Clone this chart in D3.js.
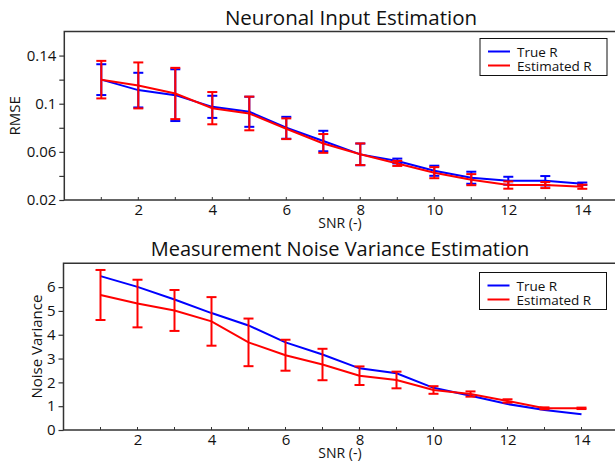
<!DOCTYPE html>
<html lang="en">
<head>
	<meta charset="utf-8">
	<title>RMSE and noise variance</title>
	<script src="https://d3js.org/d3.v7.min.js"></script>
	<style>
		body { margin: 0; background: #fff; }
		text { font-family: "Open Sans", sans-serif; fill: #111; }
	</style>
</head>
<body>
	<div id="chart"></div>
<script>
	var w = 615;
	var h = 461;

	var snr = [1, 2, 3, 4, 5, 6, 7, 8, 9, 10, 11, 12, 13, 14];

	// top panel: neuronal input RMSE (value and half error bar)
	var rmseTrue    = [0.120, 0.1113, 0.1071, 0.0974, 0.0933, 0.0800, 0.0690, 0.0579, 0.0524, 0.0443, 0.0385, 0.0360, 0.0360, 0.0335];
	var rmseTrueErr = [0.0128, 0.0144, 0.0215, 0.0092, 0.0125, 0.0091, 0.0085, 0.0090, 0.0020, 0.0042, 0.0050, 0.0033, 0.0039, 0.0010];
	var rmseEst     = [0.120, 0.1152, 0.1085, 0.0963, 0.0919, 0.0792, 0.0670, 0.0580, 0.0504, 0.0427, 0.0369, 0.0324, 0.0324, 0.0310];
	var rmseEstErr  = [0.0156, 0.0191, 0.0213, 0.0134, 0.0140, 0.0086, 0.0078, 0.0090, 0.0021, 0.0046, 0.0046, 0.0030, 0.0025, 0.0017];

	// bottom panel: measurement noise variance
	var nvTrue   = [6.46, 6.01, 5.48, 4.91, 4.39, 3.68, 3.17, 2.59, 2.38, 1.77, 1.44, 1.09, 0.84, 0.66];
	var nvEst    = [5.67, 5.31, 5.02, 4.56, 3.68, 3.14, 2.75, 2.28, 2.10, 1.68, 1.51, 1.22, 0.91, 0.91];
	var nvEstErr = [1.05, 1.00, 0.86, 1.02, 1.00, 0.65, 0.66, 0.39, 0.35, 0.16, 0.11, 0.07, 0.04, 0.03];

	var rmseTicks = [0.02, 0.04, 0.06, 0.08, 0.1, 0.12, 0.14];
	var rmseLabels = [0.02, 0.06, 0.1, 0.14];
	var nvTicks = [0, 1, 2, 3, 4, 5, 6];
	var xLabels = [2, 4, 6, 8, 10, 12, 14];

	var svg = d3.select("#chart").append("svg")
		.attr("width", w)
		.attr("height", h);

	function panel(opt) {
		var x = d3.scaleLinear().domain([0, 15]).range([opt.left, opt.left + 555]);
		var y = d3.scaleLinear().domain(opt.domain).range([opt.bottom, opt.top]);
		var g = svg.append("g");

		// frame (top + left + bottom)
		g.append("path")
			.attr("d", "M" + (w + 5) + "," + opt.top + "H" + opt.left + "V" + opt.bottom + "H" + (w + 5))
			.attr("fill", "none")
			.attr("stroke", "#333")
			.attr("stroke-width", 1.5);

		// x axis: tiny inward ticks, labels on even numbers
		var xa = g.append("g")
			.attr("transform", "translate(0," + opt.bottom + ")")
			.call(d3.axisBottom(x).tickValues(snr).tickSize(0).tickPadding(4)
				.tickFormat(function(d) { return xLabels.indexOf(d) >= 0 ? d : ""; }));
		xa.select(".domain").remove();
		xa.selectAll("text").attr("font-size", "15px").attr("font-family", "Open Sans").attr("fill", "#111");
		g.selectAll("line.xt").data(snr).enter().append("line")
			.attr("x1", function(d) { return x(d); })
			.attr("x2", function(d) { return x(d); })
			.attr("y1", opt.bottom)
			.attr("y2", opt.bottom - 3)
			.attr("stroke", "#333");

		// y axis: outward ticks
		var ya = g.append("g")
			.attr("transform", "translate(" + opt.left + ",0)")
			.call(d3.axisLeft(y).tickValues(opt.ticks).tickSize(5).tickPadding(3)
				.tickFormat(opt.fmt));
		ya.select(".domain").remove();
		ya.selectAll("line").attr("stroke", "#333").attr("stroke-width", 1.2);
		ya.selectAll("text").attr("font-size", "15px").attr("font-family", "Open Sans").attr("fill", "#111");

		g.append("text")
			.attr("x", opt.titleX)
			.attr("y", opt.top - 7)
			.attr("text-anchor", "middle")
			.attr("font-size", opt.titleSize)
			.text(opt.title);

		g.append("text")
			.attr("x", 340)
			.attr("y", opt.bottom + 28)
			.attr("text-anchor", "middle")
			.attr("font-size", "14px")
			.text("SNR (-)");

		g.append("text")
			.attr("transform", "translate(" + opt.ylabX + "," + ((opt.top + opt.bottom) / 2) + ") rotate(-90)")
			.attr("text-anchor", "middle")
			.attr("font-size", "15px")
			.text(opt.ylabel);

		opt.series.forEach(function(s) {
			var line = d3.line()
				.x(function(d, i) { return x(snr[i]); })
				.y(function(d) { return y(d); });
			if (s.err) {
				var bars = g.selectAll(null).data(s.values).enter().append("g")
					.attr("stroke", s.color)
					.attr("stroke-width", 2);
				bars.append("line")
					.attr("x1", function(d, i) { return x(snr[i]); })
					.attr("x2", function(d, i) { return x(snr[i]); })
					.attr("y1", function(d, i) { return y(d - s.err[i]); })
					.attr("y2", function(d, i) { return y(d + s.err[i]); });
				bars.append("line")
					.attr("x1", function(d, i) { return x(snr[i]) - 5; })
					.attr("x2", function(d, i) { return x(snr[i]) + 5; })
					.attr("y1", function(d, i) { return y(d - s.err[i]); })
					.attr("y2", function(d, i) { return y(d - s.err[i]); });
				bars.append("line")
					.attr("x1", function(d, i) { return x(snr[i]) - 5; })
					.attr("x2", function(d, i) { return x(snr[i]) + 5; })
					.attr("y1", function(d, i) { return y(d + s.err[i]); })
					.attr("y2", function(d, i) { return y(d + s.err[i]); });
			}
			g.append("path")
				.datum(s.values)
				.attr("d", line)
				.attr("fill", "none")
				.attr("stroke", s.color)
				.attr("stroke-width", 2);
		});

		// legend
		var lg = g.append("g").attr("transform", "translate(" + opt.legX + "," + opt.legY + ")");
		lg.append("rect")
			.attr("width", 127)
			.attr("height", 37)
			.attr("fill", "#fff")
			.attr("stroke", "#111")
			.attr("stroke-width", 1);
		[["True R", "#0000ff"], ["Estimated R", "#ff0000"]].forEach(function(item, i) {
			lg.append("line")
				.attr("x1", 8).attr("x2", 30)
				.attr("y1", 13 + i * 14).attr("y2", 13 + i * 14)
				.attr("stroke", item[1])
				.attr("stroke-width", 2);
			lg.append("text")
				.attr("x", 37)
				.attr("y", 18 + i * 14)
				.attr("font-size", "13.5px")
				.text(item[0]);
		});
	}

	panel({
		left: 64.3, top: 31.5, bottom: 200,
		domain: [0.02, 0.16],
		ticks: rmseTicks,
		fmt: function(d) { return rmseLabels.indexOf(d) >= 0 ? String(d) : ""; },
		title: "Neuronal Input Estimation", titleX: 351, titleSize: "20.5px",
		ylabel: "RMSE", ylabX: 20,
		legX: 480, legY: 38.5,
		series: [
			{ values: rmseTrue, err: rmseTrueErr, color: "#0000ff" },
			{ values: rmseEst, err: rmseEstErr, color: "#ff0000" }
		]
	});

	panel({
		left: 63.5, top: 263.3, bottom: 430,
		domain: [0, 7],
		ticks: nvTicks,
		fmt: function(d) { return d; },
		title: "Measurement Noise Variance Estimation", titleX: 340, titleSize: "20px",
		ylabel: "Noise Variance", ylabX: 42,
		legX: 479.5, legY: 272.5,
		series: [
			{ values: nvTrue, err: null, color: "#0000ff" },
			{ values: nvEst, err: nvEstErr, color: "#ff0000" }
		]
	});
</script>
</body>
</html>
